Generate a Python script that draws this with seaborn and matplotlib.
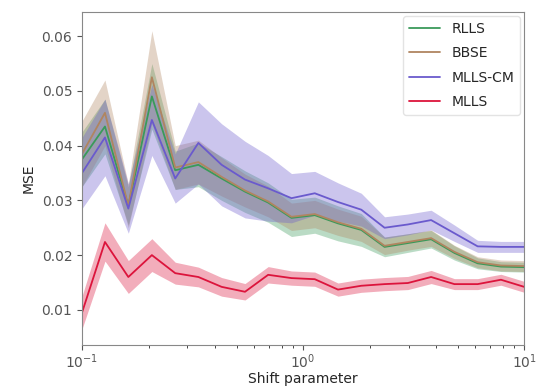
import numpy as np
import pandas as pd
import matplotlib
matplotlib.use("Agg")
import matplotlib.pyplot as plt
import seaborn as sns

shift = [0.1, 0.127, 0.162, 0.207, 0.264, 0.336, 0.428, 0.546, 0.695, 0.886,
         1.129, 1.438, 1.833, 2.336, 2.976, 3.793, 4.833, 6.158, 7.848, 10.0]

rlls = [0.0375, 0.0435, 0.0290, 0.0490, 0.0355, 0.0365, 0.0340, 0.0316, 0.0296, 0.0268,
        0.0273, 0.0258, 0.0246, 0.0215, 0.0222, 0.0229, 0.0204, 0.0185, 0.0179, 0.0178]
rlls_err = [0.0050, 0.0050, 0.0035, 0.0060, 0.0035, 0.0040, 0.0040, 0.0038, 0.0036, 0.0034,
            0.0033, 0.0032, 0.0030, 0.0018, 0.0017, 0.0016, 0.0013, 0.0010, 0.0009, 0.0009]

bbse = [0.0385, 0.0460, 0.0290, 0.0525, 0.0360, 0.0370, 0.0343, 0.0318, 0.0298, 0.0270,
        0.0275, 0.0260, 0.0248, 0.0217, 0.0224, 0.0231, 0.0206, 0.0187, 0.0181, 0.0180]
bbse_err = [0.0060, 0.0060, 0.0040, 0.0085, 0.0040, 0.0040, 0.0035, 0.0030, 0.0028, 0.0025,
            0.0025, 0.0024, 0.0023, 0.0016, 0.0015, 0.0015, 0.0012, 0.0010, 0.0010, 0.0010]

mllscm = [0.0350, 0.0415, 0.0285, 0.0447, 0.0340, 0.0405, 0.0365, 0.0338, 0.0322, 0.0304,
          0.0313, 0.0297, 0.0283, 0.0250, 0.0256, 0.0264, 0.0240, 0.0216, 0.0215, 0.0215]
mllscm_err = [0.0065, 0.0070, 0.0045, 0.0065, 0.0045, 0.0075, 0.0075, 0.0070, 0.0060, 0.0045,
              0.0040, 0.0035, 0.0030, 0.0020, 0.0019, 0.0018, 0.0015, 0.0011, 0.0010, 0.0010]

mlls = [0.0095, 0.0224, 0.0160, 0.0200, 0.0167, 0.0160, 0.0142, 0.0133, 0.0164, 0.0158,
        0.0156, 0.0137, 0.0144, 0.0147, 0.0149, 0.0160, 0.0147, 0.0147, 0.0155, 0.0142]
mlls_err = [0.0030, 0.0035, 0.0030, 0.0030, 0.0020, 0.0018, 0.0017, 0.0015, 0.0015, 0.0013,
            0.0013, 0.0012, 0.0012, 0.0012, 0.0012, 0.0012, 0.0010, 0.0010, 0.0010, 0.0010]

methods = ["RLLS", "BBSE", "MLLS-CM", "MLLS"]
colors = {"RLLS": "#3a9a5a", "BBSE": "#b08560", "MLLS-CM": "#6a5acd", "MLLS": "#dc143c"}
means = {"RLLS": rlls, "BBSE": bbse, "MLLS-CM": mllscm, "MLLS": mlls}
errs = {"RLLS": rlls_err, "BBSE": bbse_err, "MLLS-CM": mllscm_err, "MLLS": mlls_err}

rows = []
for m in methods:
    for x, y, e in zip(shift, means[m], errs[m]):
        rows.append({"shift": x, "mse": y, "err": e, "method": m})
df = pd.DataFrame(rows)

sns.set_style("ticks")
plt.rcParams["font.family"] = ["DejaVu Sans"]

fig = plt.figure(figsize=(5.36, 3.91), dpi=100)
ax = fig.add_axes([0.153, 0.118, 0.825, 0.851])

sns.lineplot(data=df, x="shift", y="mse", hue="method", palette=colors,
             hue_order=methods, ax=ax, linewidth=1.3)
for m in methods:
    d = df[df.method == m]
    ax.fill_between(d["shift"], d["mse"] - d["err"], d["mse"] + d["err"],
                    color=colors[m], alpha=0.35, linewidth=0)

ax.set_xscale("log")
ax.set_xlim(0.1, 10)
ax.set_ylim(0.0036, 0.0644)
ax.set_yticks([0.01, 0.02, 0.03, 0.04, 0.05, 0.06])
ax.set_xlabel("Shift parameter", fontsize=10, labelpad=1)
ax.set_ylabel("MSE", fontsize=10)
ax.tick_params(labelsize=10, colors="#555555")
ax.tick_params(axis="x", pad=2)
for s in ax.spines.values():
    s.set_visible(True)
    s.set_color("#888888")

leg = ax.legend(loc="upper right", fontsize=10, frameon=True, title=None,
                labelspacing=0.75, handlelength=2.3, borderaxespad=0.3)
leg.get_frame().set_edgecolor("#dddddd")

fig.savefig("out.png", dpi=100)
